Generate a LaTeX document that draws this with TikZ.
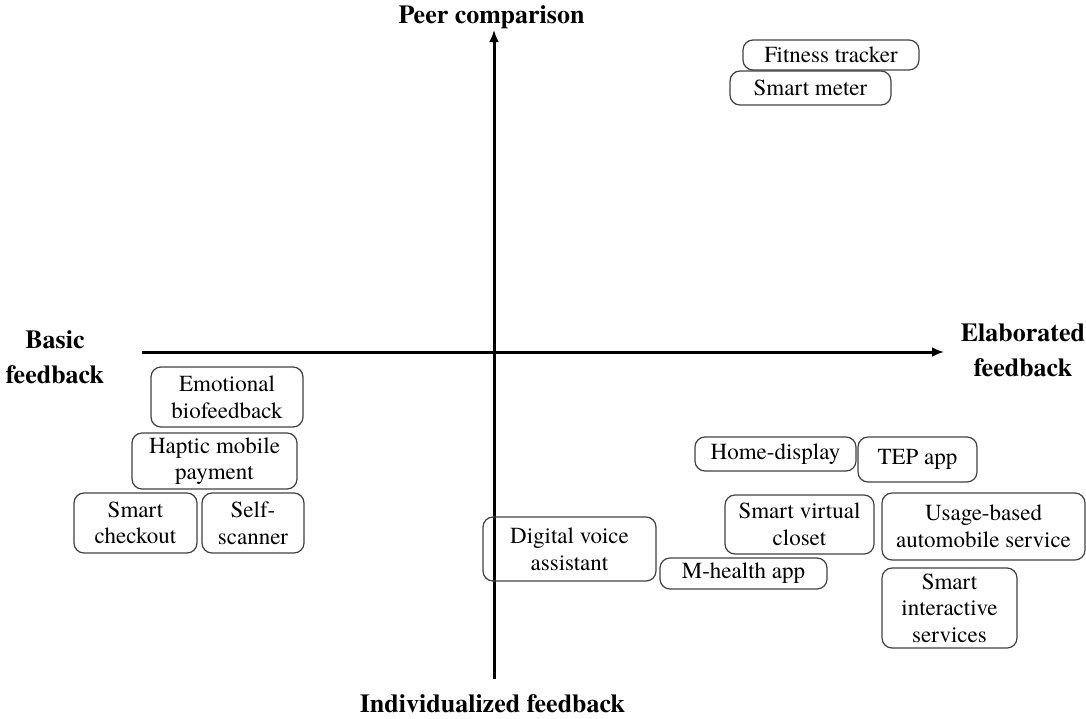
\documentclass[tikz,border=0pt]{standalone}
\usepackage{fontspec}
\setmainfont{texgyretermes}[Extension=.otf,UprightFont=*-regular,BoldFont=*-bold]
\usepackage{tikz}
\usetikzlibrary{arrows.meta}
\usetikzlibrary{positioning}

\begin{document}
\begin{tikzpicture}[x=0.5pt,y=-0.5pt,
    every node/.style={font=\fontsize{11.5}{13.3}\selectfont},
    item/.style={draw=black!75,line width=0.6pt,rounded corners=5pt,
      align=center,inner sep=0pt},
    axislabel/.style={align=center,font=\fontsize{13}{17.5}\selectfont\bfseries},
    axis/.style={line width=1.5pt,-{Latex[length=6pt,width=5pt]}}]
  \useasboundingbox (0,0) rectangle (1086,718);

  % axes
  \coordinate (W) at (142,352);
  \coordinate (E) at (944,352);
  \coordinate (S) at (494,679);
  \coordinate (N) at (494,30);
  \draw[axis] (W) -- (E);
  \draw[axis] (S) -- (N);

  \node[axislabel] (peer) at (491.5,17) {Peer comparison};
  \node[axislabel] (indiv) at (492.5,704) {Individualized feedback};
  \node[axislabel] (basic) at (55,357) {Basic\\feedback};
  \node[axislabel] (elab) at (1023,350.5) {Elaborated\\feedback};

  % upper right
  \node[item,minimum width=88pt,minimum height=15pt] (fitness) at (831,55) {Fitness tracker};
  \node[item,minimum width=80.5pt,minimum height=17pt] (meter) at (810.5,88) {Smart meter};

  % lower left
  \node[item,minimum width=76pt,minimum height=30pt] (emotion) at (227,397) {Emotional\\biofeedback};
  \node[item,minimum width=82.5pt,minimum height=28pt] (haptic) at (214.5,461) {Haptic mobile\\payment};
  \node[item,minimum width=61.5pt,minimum height=30pt] (checkout) at (135.5,523) {Smart\\checkout};
  \node[item,minimum width=51pt,minimum height=30pt] (scanner) at (253,523) {Self-\\scanner};

  % lower right
  \node[item,minimum width=86.5pt,minimum height=32pt] (voice) at (569.5,549) {Digital voice\\assistant};
  \node[item,minimum width=83.5pt,minimum height=15.5pt] (mhealth) at (743.5,573.5) {M-health app};
  \node[item,minimum width=80.5pt,minimum height=17pt] (home) at (775.5,454) {Home-display};
  \node[item,minimum width=59.5pt,minimum height=22.5pt] (tep) at (917.5,459.5) {TEP app};
  \node[item,minimum width=74.5pt,minimum height=29.5pt] (closet) at (799.5,524.5) {Smart virtual\\closet};
  \node[item,minimum width=101.5pt,minimum height=33.5pt] (usage) at (983.5,526.5) {Usage-based\\automobile service};
  \node[item,minimum width=67.5pt,minimum height=40pt] (interactive) at (949.5,608) {Smart\\interactive\\services};
\end{tikzpicture}
\end{document}
